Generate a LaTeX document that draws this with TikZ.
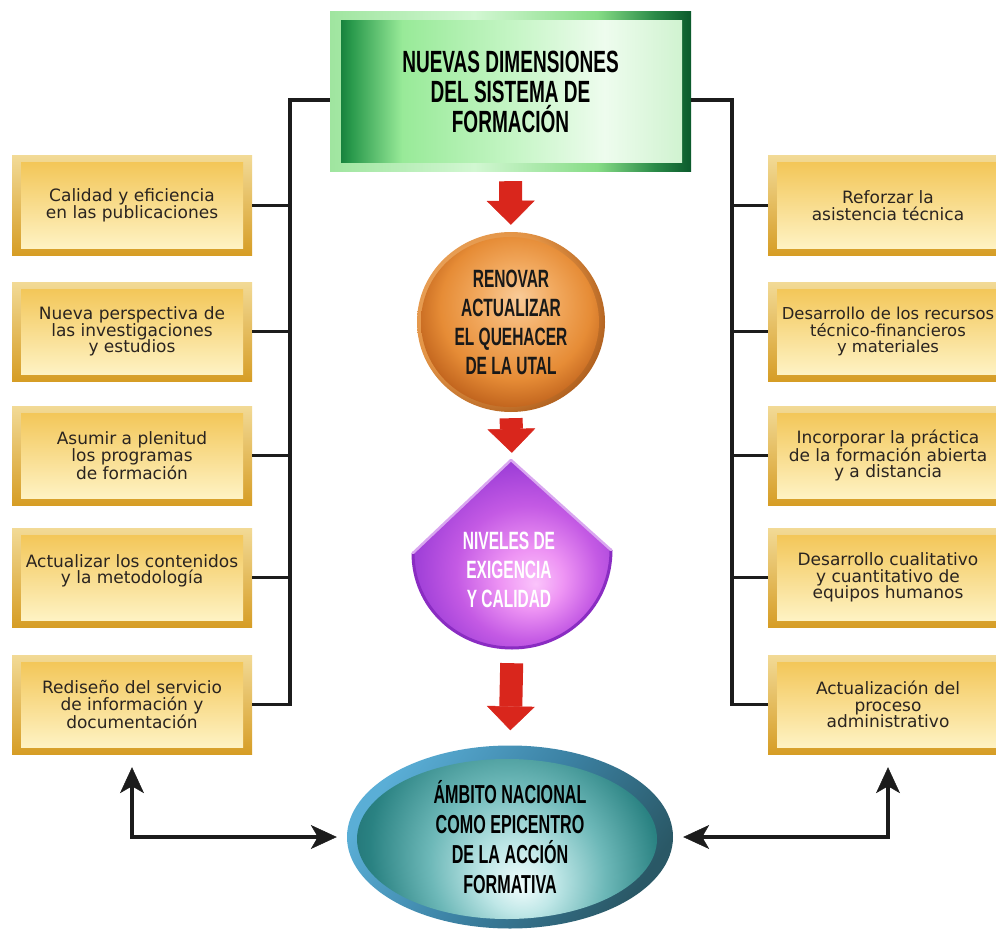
\documentclass[tikz,border=0pt]{standalone}
\usepackage{fontspec}
\setmainfont{DejaVu Sans}
\newfontfamily\condfont{Liberation Sans}[FakeStretch=0.62]
\usetikzlibrary{shapes.geometric,arrows.meta,calc,shadings}

\definecolor{blk}{HTML}{1C1C1C}
\definecolor{redA}{HTML}{D9261C}
\definecolor{txt}{HTML}{2A2420}
\definecolor{goldT}{HTML}{F2DA96}
\definecolor{goldB}{HTML}{D69D25}
\definecolor{goldIT}{HTML}{F2C350}
\definecolor{goldIB}{HTML}{FFF6CC}
\definecolor{gf1}{HTML}{9FE59F}
\definecolor{gf2}{HTML}{D2F7D2}
\definecolor{gf3}{HTML}{86DC86}
\definecolor{gf4}{HTML}{2A8A48}
\definecolor{gf5}{HTML}{0B5A2C}
\definecolor{gi1}{HTML}{046A2E}
\definecolor{gi2}{HTML}{2A9A4C}
\definecolor{gi3}{HTML}{98EA98}
\definecolor{gi4}{HTML}{C4F5C4}
\definecolor{gi5}{HTML}{EEFCEE}
\definecolor{gi6}{HTML}{CDF2CD}
\definecolor{oc1}{HTML}{F9CB98}
\definecolor{oc2}{HTML}{F2AA60}
\definecolor{oc3}{HTML}{E68C36}
\definecolor{oc4}{HTML}{C2651E}
\definecolor{oc5}{HTML}{8A4214}
\definecolor{or1}{HTML}{F2B678}
\definecolor{or2}{HTML}{E39446}
\definecolor{or3}{HTML}{B0601E}
\definecolor{or4}{HTML}{6A300E}
\definecolor{pc1}{HTML}{FBC4FB}
\definecolor{pc2}{HTML}{EE94F4}
\definecolor{pc3}{HTML}{C45AE4}
\definecolor{pc4}{HTML}{A040D8}
\definecolor{pc5}{HTML}{8A2CC4}
\definecolor{plight}{HTML}{D9A6F0}
\definecolor{pdark}{HTML}{8A2CC2}
\definecolor{tc1}{HTML}{F0FCFC}
\definecolor{tc2}{HTML}{BFE7E7}
\definecolor{tc3}{HTML}{6DB8B8}
\definecolor{tc4}{HTML}{2A8282}
\definecolor{tc5}{HTML}{1A6268}
\definecolor{tr1}{HTML}{5AAED6}
\definecolor{tr2}{HTML}{3C82A4}
\definecolor{tr3}{HTML}{2A5866}

\pgfdeclarehorizontalshading{gframe}{100bp}{color(0bp)=(gf1); color(25bp)=(gf1); color(45bp)=(gf2); color(62bp)=(gf3); color(70bp)=(gf4); color(75bp)=(gf5); color(100bp)=(gf5)}
\pgfdeclarehorizontalshading{ginner}{100bp}{color(0bp)=(gi1); color(25bp)=(gi1); color(28bp)=(gi2); color(35bp)=(gi3); color(50bp)=(gi4); color(63bp)=(gi5); color(75bp)=(gi6); color(100bp)=(gi6)}
\pgfdeclareradialshading{orim}{\pgfpoint{-10bp}{8bp}}{color(0bp)=(or1); color(22bp)=(or2); color(30bp)=(or3); color(37bp)=(or4); color(50bp)=(or4)}
\pgfdeclareradialshading{oball}{\pgfpoint{2bp}{7bp}}{color(0bp)=(oc1); color(10bp)=(oc2); color(20bp)=(oc3); color(27bp)=(oc4); color(34bp)=(oc5); color(50bp)=(oc5)}
\pgfdeclareradialshading{pball}{\pgfpoint{6bp}{-8bp}}{color(0bp)=(pc1); color(8bp)=(pc2); color(18bp)=(pc3); color(27bp)=(pc4); color(36bp)=(pc5); color(50bp)=(pc5)}
\pgfdeclareradialshading{tball}{\pgfpoint{7bp}{-7bp}}{color(0bp)=(tc1); color(7bp)=(tc2); color(17bp)=(tc3); color(28bp)=(tc4); color(38bp)=(tc5); color(50bp)=(tc5)}
\pgfdeclarehorizontalshading{trim}{100bp}{color(0bp)=(tr1); color(25bp)=(tr1); color(50bp)=(tr2); color(75bp)=(tr3); color(100bp)=(tr3)}

\begin{document}
\begin{tikzpicture}[x=1pt,y=-1pt,
  goldbox/.style={rectangle, inner sep=0pt, minimum width=240pt, minimum height=99pt,
    top color=goldT, bottom color=goldB, align=center, text=txt,
    font={\fontsize{17}{16.5}\selectfont},
    path picture={\shade[top color=goldIT, bottom color=goldIB]
      ($(path picture bounding box.north west)+(9,7)$) rectangle
      ($(path picture bounding box.south east)+(-9,-7)$);}},
  bigtext/.style={align=center, inner sep=0pt, font={\condfont\bfseries\fontsize{25}{29}\selectfont}},
  conn/.style={draw=blk, line width=3.2pt},
  redarr/.style={draw=redA, line width=23pt, -{Triangle[length=24pt,width=48pt,line width=0.5pt]}},
  dblarr/.style={draw=blk, line width=3.5pt,
    {Stealth[length=26pt,width=24pt,inset=7pt,line width=0.5pt]}-{Stealth[length=26pt,width=24pt,inset=7pt,line width=0.5pt]},
    shorten <=13pt, shorten >=10pt}
]
\useasboundingbox (0,0) rectangle (996,931);
\fill[white] (0,0) rectangle (996,931);
\clip (0,0) rectangle (996,931);

% top box
\node[rectangle, inner sep=0pt, minimum width=361pt, minimum height=159pt,
  shading=gframe, shade, align=center,
  font={\condfont\bfseries\fontsize{30.7}{30}\selectfont},
  path picture={\shade[shading=ginner]
    ($(path picture bounding box.south west)+(11,-8)$) rectangle
    ($(path picture bounding box.north east)+(-9,9)$);}]
  (top) at (510.5,91.5) {NUEVAS DIMENSIONES\\DEL SISTEMA DE\\FORMACIÓN};

% orange circle
\node[ellipse, inner sep=0pt, minimum width=188pt, minimum height=180pt,
  shading=orim, shade, bigtext, text=black!90,
  path picture={\shade[shading=oball]
    ($(path picture bounding box.center)+(-1,0)$) ellipse[x radius=89pt, y radius=85pt];}]
  (ren) at (511,322) {RENOVAR\\ACTUALIZAR\\EL QUEHACER\\DE LA UTAL};

% purple shape
\node[rectangle, inner sep=0pt, minimum width=198pt, minimum height=188pt] (niv) at (512,554) {};
\shade[shading=pball]
  (511,460) -- (611,550) .. controls (611,605) and (567,648) .. (512,648)
  .. controls (457,648) and (413,607) .. (413,553) -- cycle;
\draw[pdark, line width=3pt, line cap=round]
  (611,550) .. controls (611,605) and (567,648) .. (512,648)
  .. controls (457,648) and (413,607) .. (413,553);
\draw[plight, line width=2.5pt, line join=round, line cap=round]
  (413,553) -- (511,460) -- (611,550);
\node[bigtext, text=white] (nivT) at (509,570) {NIVELES DE\\EXIGENCIA\\Y CALIDAD};

% teal ellipse
\node[ellipse, inner sep=0pt, minimum width=326pt, minimum height=183pt,
  shading=trim, shading angle=-35, shade, align=center,
  font={\condfont\bfseries\fontsize{26}{30}\selectfont}, text=black,
  path picture={\shade[shading=tball]
    ($(path picture bounding box.center)+(-3,2)$) ellipse[x radius=150pt, y radius=80pt];}]
  (amb) at (510,837) {ÁMBITO NACIONAL\\COMO EPICENTRO\\DE LA ACCIÓN\\FORMATIVA};

% left boxes
\node[goldbox] (L1) at (132,205.5) {Calidad y eficiencia\\en las publicaciones};
\node[goldbox] (L2) at (132,331.5) {Nueva perspectiva de\\las investigaciones\\y estudios};
\node[goldbox] (L3) at (132,455.5) {Asumir a plenitud\\los programas\\de formación};
\node[goldbox] (L4) at (132,577.5) {Actualizar los contenidos\\y la metodología\\\mbox{}};
\node[goldbox] (L5) at (132,704.5) {Rediseño del servicio\\de información y\\documentación};

% right boxes
\node[goldbox] (R1) at (888,205.5) {Reforzar la\\asistencia técnica};
\node[goldbox, font={\fontsize{16.4}{16.5}\selectfont}] (R2) at (888,331.5) {Desarrollo de los recursos\\técnico-financieros\\y materiales};
\node[goldbox] (R3) at (888,455.5) {Incorporar la práctica\\de la formación abierta\\y a distancia};
\node[goldbox] (R4) at (888,577.5) {Desarrollo cualitativo\\y cuantitativo de\\equipos humanos};
\node[goldbox] (R5) at (888,704.5) {Actualización del\\proceso\\administrativo};

% spines
\coordinate (spL) at (290,100);
\coordinate (spR) at (732,100);
\draw[conn] (top.west |- spL) -- (spL) -- (spL |- L5.east) -- (L5.east);
\draw[conn] (top.east |- spR) -- (spR) -- (spR |- R5.west) -- (R5.west);
\foreach \i in {1,2,3,4}{
  \draw[conn] (L\i.east) -- (L\i.east -| spL);
  \draw[conn] (R\i.west) -- (R\i.west -| spR);
}

% red arrows
\draw[redarr, shorten <=10pt, shorten >=7pt] (top.south) -- (ren.north);
\draw[redarr, shorten <=6pt, shorten >=7pt] (ren.south) -- (niv.north);
\draw[redarr, shorten <=15pt, shorten >=15pt] (niv.south) -- (amb.north);

% black double arrows
\draw[dblarr] (L5.south) |- (amb.west);
\draw[dblarr] (R5.south) |- (amb.east);
\end{tikzpicture}
\end{document}
